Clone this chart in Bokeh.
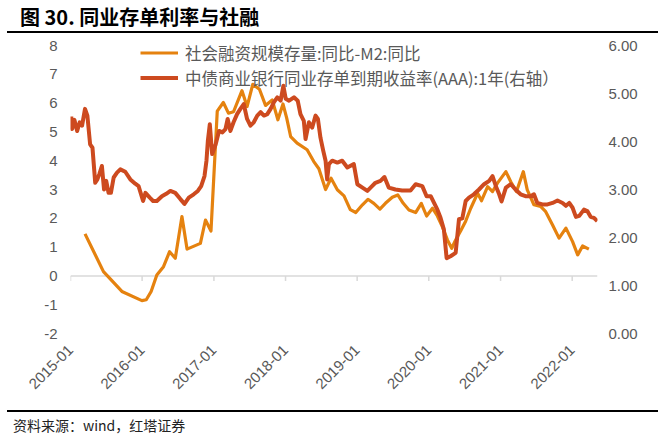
import math
import pandas as pd
from bokeh.plotting import figure
from bokeh.layouts import column
from bokeh.models import (Range1d, LinearAxis, FixedTicker, DatetimeTickFormatter, Span, Div,
                          PrintfTickFormatter, Legend, LegendItem, ColumnDataSource)
from bokeh.embed import file_html
from bokeh.resources import INLINE

TITLE = "图 30. 同业存单利率与社融"
SOURCE = "资料来源：wind，红塔证券"
NAME_A = "社会融资规模存量:同比-M2:同比"
NAME_B = "中债商业银行同业存单到期收益率(AAA):1年(右轴）"

YEARS = list(range(2015, 2023))
LEFT_TICKS = list(range(-2, 9))
RIGHT_TICKS = [0, 1, 2, 3, 4, 5, 6]

# 社融存量同比 - M2同比 (left axis, %)
a_dates = ["2015-03-16", "2015-06-18", "2015-09-20", "2015-12-31",
           "2016-01-22", "2016-02-16", "2016-03-16", "2016-04-19", "2016-05-20", "2016-06-18",
           "2016-07-22", "2016-08-17", "2016-10-24", "2016-11-19", "2016-12-17",
           "2017-01-18", "2017-02-18", "2017-03-16", "2017-04-11", "2017-05-24", "2017-06-19",
           "2017-07-18", "2017-08-21", "2017-09-21", "2017-10-25", "2017-11-23", "2017-12-19",
           "2018-01-07", "2018-01-27", "2018-03-01", "2018-04-21", "2018-05-25", "2018-06-20",
           "2018-07-24", "2018-08-21", "2018-09-22", "2018-10-26", "2018-11-27", "2018-12-25",
           "2019-01-28", "2019-02-25", "2019-03-27", "2019-04-27", "2019-05-25", "2019-06-29",
           "2019-07-27", "2019-08-24", "2019-09-22", "2019-10-26", "2019-11-24", "2019-12-21",
           "2020-01-20", "2020-02-14", "2020-03-10", "2020-04-05", "2020-04-27", "2020-05-17",
           "2020-06-12", "2020-07-07", "2020-08-02", "2020-09-06", "2020-09-26", "2020-10-27",
           "2020-11-21", "2020-12-16",
           "2021-01-28", "2021-02-22", "2021-03-23", "2021-04-27", "2021-05-17", "2021-06-20",
           "2021-07-24", "2021-08-19", "2021-09-23", "2021-10-26", "2021-11-30",
           "2022-01-03", "2022-01-29", "2022-02-23", "2022-03-27"]
a_values = [1.46, 0.15, -0.54, -0.86,
            -0.83, -0.54, 0.03, 0.32, 0.84, 0.61, 2.06, 0.93, 1.13, 1.94, 1.56,
            5.72, 6.02, 5.65, 5.70, 6.43, 5.88, 6.65, 6.48, 5.92, 6.11, 5.42, 5.97,
            5.48, 4.84, 4.61, 4.38, 3.97, 3.72, 3.00, 3.39, 2.99, 2.78, 2.30, 2.20,
            2.47, 2.66, 2.52, 2.32, 2.52, 2.73, 2.81, 2.52, 2.29, 2.20, 2.52, 2.08,
            2.35, 2.08, 1.71, 1.25, 0.96, 1.25, 1.57, 1.90, 2.35, 2.87, 2.61, 3.10, 2.93, 3.22,
            3.62, 3.27, 2.93, 3.62, 2.99, 2.47, 2.41, 2.23, 1.77, 1.31, 1.66,
            1.19, 0.73, 1.04, 0.93]

# 同业存单到期收益率 AAA 1Y (right axis, %)
b_dates = ["2015-01-05", "2015-01-09", "2015-01-21", "2015-02-04", "2015-02-17", "2015-03-01",
           "2015-03-16", "2015-03-28", "2015-04-11", "2015-04-23", "2015-05-07", "2015-05-18",
           "2015-05-28", "2015-06-10", "2015-06-21", "2015-07-02", "2015-07-14", "2015-07-26",
           "2015-08-09", "2015-08-26", "2015-09-12", "2015-10-07", "2015-11-02", "2015-11-27",
           "2015-12-14",
           "2016-01-06", "2016-01-18", "2016-02-09", "2016-02-26", "2016-03-16", "2016-04-11",
           "2016-05-03", "2016-05-24", "2016-06-18", "2016-07-14", "2016-08-04", "2016-08-26",
           "2016-09-20", "2016-10-11", "2016-10-28", "2016-11-14", "2016-11-24", "2016-12-01",
           "2016-12-11", "2016-12-23",
           "2017-01-10", "2017-01-27", "2017-02-13", "2017-03-01", "2017-03-12", "2017-03-26",
           "2017-04-11", "2017-04-29", "2017-05-16", "2017-06-02", "2017-06-19", "2017-07-06",
           "2017-07-23", "2017-08-10", "2017-08-27", "2017-09-13", "2017-09-30", "2017-10-17",
           "2017-11-03", "2017-11-20", "2017-12-07", "2017-12-21",
           "2018-01-02", "2018-01-19", "2018-02-13", "2018-03-04", "2018-03-18", "2018-04-04",
           "2018-04-13", "2018-04-30", "2018-05-17", "2018-06-03", "2018-06-15", "2018-06-28",
           "2018-07-12", "2018-07-24", "2018-08-01", "2018-08-10", "2018-08-27", "2018-09-22",
           "2018-10-17", "2018-11-12", "2018-12-15",
           "2019-01-02", "2019-01-28", "2019-02-22", "2019-03-18", "2019-04-04", "2019-04-30",
           "2019-05-20", "2019-06-11", "2019-07-15", "2019-08-18", "2019-09-30", "2019-10-26",
           "2019-11-29", "2019-12-21",
           "2020-01-11", "2020-01-28", "2020-02-14", "2020-03-01", "2020-03-18", "2020-04-01",
           "2020-04-21", "2020-05-17", "2020-06-03", "2020-06-20", "2020-07-07", "2020-07-24",
           "2020-08-18", "2020-09-13", "2020-10-09", "2020-11-04", "2020-11-21", "2020-12-08",
           "2020-12-25",
           "2021-01-06", "2021-01-28", "2021-02-22", "2021-03-18", "2021-04-13", "2021-05-08",
           "2021-06-03", "2021-06-20", "2021-07-07", "2021-08-02", "2021-08-28", "2021-09-23",
           "2021-10-18", "2021-11-13", "2021-11-30", "2021-12-17",
           "2022-01-03", "2022-01-20", "2022-02-06", "2022-03-02", "2022-03-19", "2022-04-05",
           "2022-04-22", "2022-05-09"]
b_values = [4.52, 4.26, 4.45, 4.22, 4.40, 4.33, 4.68, 4.54, 3.94, 3.87, 3.14, 3.21, 3.32, 3.49,
            3.00, 3.18, 2.93, 2.93, 3.25, 3.35, 3.42, 3.37, 3.21, 3.12, 3.07,
            2.76, 2.93, 2.83, 2.76, 2.76, 2.86, 2.91, 2.97, 2.93, 2.80, 2.70, 2.83, 2.90, 2.97,
            3.07, 3.28, 3.60, 4.01, 4.36, 3.74,
            3.94, 4.22, 4.19, 4.26, 4.47, 4.22, 4.40, 4.57, 4.68, 4.78, 4.47, 4.33, 4.40, 4.54,
            4.61, 4.54, 4.57, 4.68, 4.82, 4.92, 4.85, 5.16,
            4.89, 4.85, 4.92, 4.85, 4.57, 4.43, 4.05, 4.40, 4.29, 4.54, 4.47, 4.08, 3.81, 3.60,
            3.21, 3.53, 3.60, 3.56, 3.60, 3.46, 3.53,
            3.11, 3.04, 2.97, 3.07, 3.14, 3.18, 3.26, 3.04, 3.00, 2.98, 2.98, 3.11, 3.07, 2.86,
            2.86, 2.72, 2.58, 2.41, 2.17, 1.57, 1.61, 1.68, 2.38, 2.40, 2.76, 2.83, 2.90, 3.00,
            3.11, 3.18, 3.28, 3.07, 2.90,
            2.75, 3.04, 3.11, 3.00, 2.90, 2.86, 2.86, 2.90, 2.72, 2.69, 2.69, 2.72, 2.77, 2.72,
            2.66, 2.72,
            2.62, 2.43, 2.45, 2.58, 2.55, 2.43, 2.41, 2.34]

ORANGE = "#E5820F"
RED = "#CD4A1F"
GREY_TXT = "#595959"
AXIS_GREY = "#D9D9D9"
NUM_FONT = "Liberation Sans"
CJK_FONT = "Noto Sans CJK SC"
W = 665

# ---------- header: title + rule (HTML) ----------
head_html = (
    '<div style="position:relative;width:665px;height:34px;">'
    '<span style="position:absolute;left:20px;top:5px;font-family:\'Noto Sans CJK SC\';'
    'font-weight:bold;font-size:20px;line-height:24px;color:#000;white-space:nowrap;">'
    + TITLE + '</span>'
    '<div style="position:absolute;left:7px;top:31.2px;width:651px;height:1.6px;'
    'background:#000;"></div></div>'
)
head = Div(text=head_html, width=W, height=34, margin=(0, 0, 0, 0))

# ---------- main chart ----------
PAD_PX = 5            # free space above the "8" gridline for the legend
PX_PER_UNIT = 28.8    # left-axis pixels per unit (frame 288 px for 10 units)
pad = PAD_PX / PX_PER_UNIT

p = figure(width=W, height=371, output_backend="svg", toolbar_location=None,
           x_axis_type="datetime",
           x_range=Range1d(pd.Timestamp("2015-01-01"), pd.Timestamp("2022-05-10")),
           y_range=Range1d(-2, 8 + pad),
           min_border_left=70, min_border_right=68, min_border_top=6, min_border_bottom=72)
p.extra_y_ranges = {"right": Range1d(0, 6 + 0.6 * pad)}
p.outline_line_color = None
p.xgrid.visible = False
p.ygrid.visible = False

year_dates = pd.to_datetime([f"{y}-01-01" for y in YEARS])
year_ms = [d.value // 10**6 for d in year_dates]
fmt = DatetimeTickFormatter(days="%Y-%m", months="%Y-%m", years="%Y-%m")

xa = p.xaxis[0]
xa.ticker = FixedTicker(ticks=year_ms)
xa.formatter = fmt
xa.major_label_orientation = math.pi / 4
xa.axis_line_color = None
xa.major_tick_line_color = None
xa.minor_tick_line_color = None
xa.major_label_text_font = NUM_FONT
xa.major_label_text_font_size = "15px"
xa.major_label_text_color = GREY_TXT
xa.major_label_standoff = 8

# category axis line at y = 0 with outward tick marks
p.add_layout(Span(location=0, dimension="width", line_color=AXIS_GREY, line_width=1.5,
                  level="underlay"))
p.ray(x=year_dates, y=[0] * len(YEARS), length=5, length_units="screen",
      angle=-math.pi / 2, line_color=AXIS_GREY, line_width=1.5, level="underlay")

ya = p.yaxis[0]
ya.ticker = FixedTicker(ticks=LEFT_TICKS)
ya.formatter = PrintfTickFormatter(format="%d")
ya.axis_line_color = None
ya.major_tick_line_color = None
ya.minor_tick_line_color = None
ya.major_tick_out = 0
ya.major_tick_in = 0
ya.major_label_text_font = NUM_FONT
ya.major_label_text_font_size = "15px"
ya.major_label_text_color = GREY_TXT
ya.major_label_standoff = 13

ra = LinearAxis(y_range_name="right", ticker=FixedTicker(ticks=RIGHT_TICKS),
                formatter=PrintfTickFormatter(format="%.2f"),
                axis_line_color=None, major_tick_line_color=None, minor_tick_line_color=None,
                major_tick_out=0, major_tick_in=0,
                major_label_text_font=NUM_FONT, major_label_text_font_size="15px",
                major_label_text_color=GREY_TXT, major_label_standoff=11)
p.add_layout(ra, "right")

src_a = ColumnDataSource(dict(x=pd.to_datetime(a_dates), y=a_values))
src_b = ColumnDataSource(dict(x=pd.to_datetime(b_dates), y=b_values))
r_a = p.line("x", "y", source=src_a, line_color=ORANGE, line_width=3.2, line_join="round")
r_b = p.line("x", "y", source=src_b, line_color=RED, line_width=4, line_join="round",
             y_range_name="right")

legend = Legend(items=[LegendItem(label=NAME_A, renderers=[r_a]),
                       LegendItem(label=NAME_B, renderers=[r_b])],
                location=(70, 243.5), orientation="vertical",
                glyph_width=38, glyph_height=19, label_height=19, spacing=1,
                padding=0, margin=0, label_standoff=7,
                border_line_color=None, background_fill_alpha=0,
                label_text_font=CJK_FONT, label_text_font_size="16.5px",
                label_text_color=GREY_TXT)
p.add_layout(legend)

# ---------- footer: rule + source (HTML) ----------
foot_html = (
    '<div style="position:relative;width:665px;height:32px;">'
    '<div style="position:absolute;left:7px;top:5.4px;width:651px;height:1.6px;'
    'background:#000;"></div>'
    '<span style="position:absolute;left:13px;top:11px;font-family:\'Noto Sans CJK SC\';'
    'font-size:14px;line-height:18px;color:#222;white-space:nowrap;">'
    + SOURCE + '</span></div>'
)
foot = Div(text=foot_html, width=W, height=32, margin=(0, 0, 0, 0))

page = column(head, p, foot, spacing=0)
open("out.html", "w").write(file_html(page, INLINE))
